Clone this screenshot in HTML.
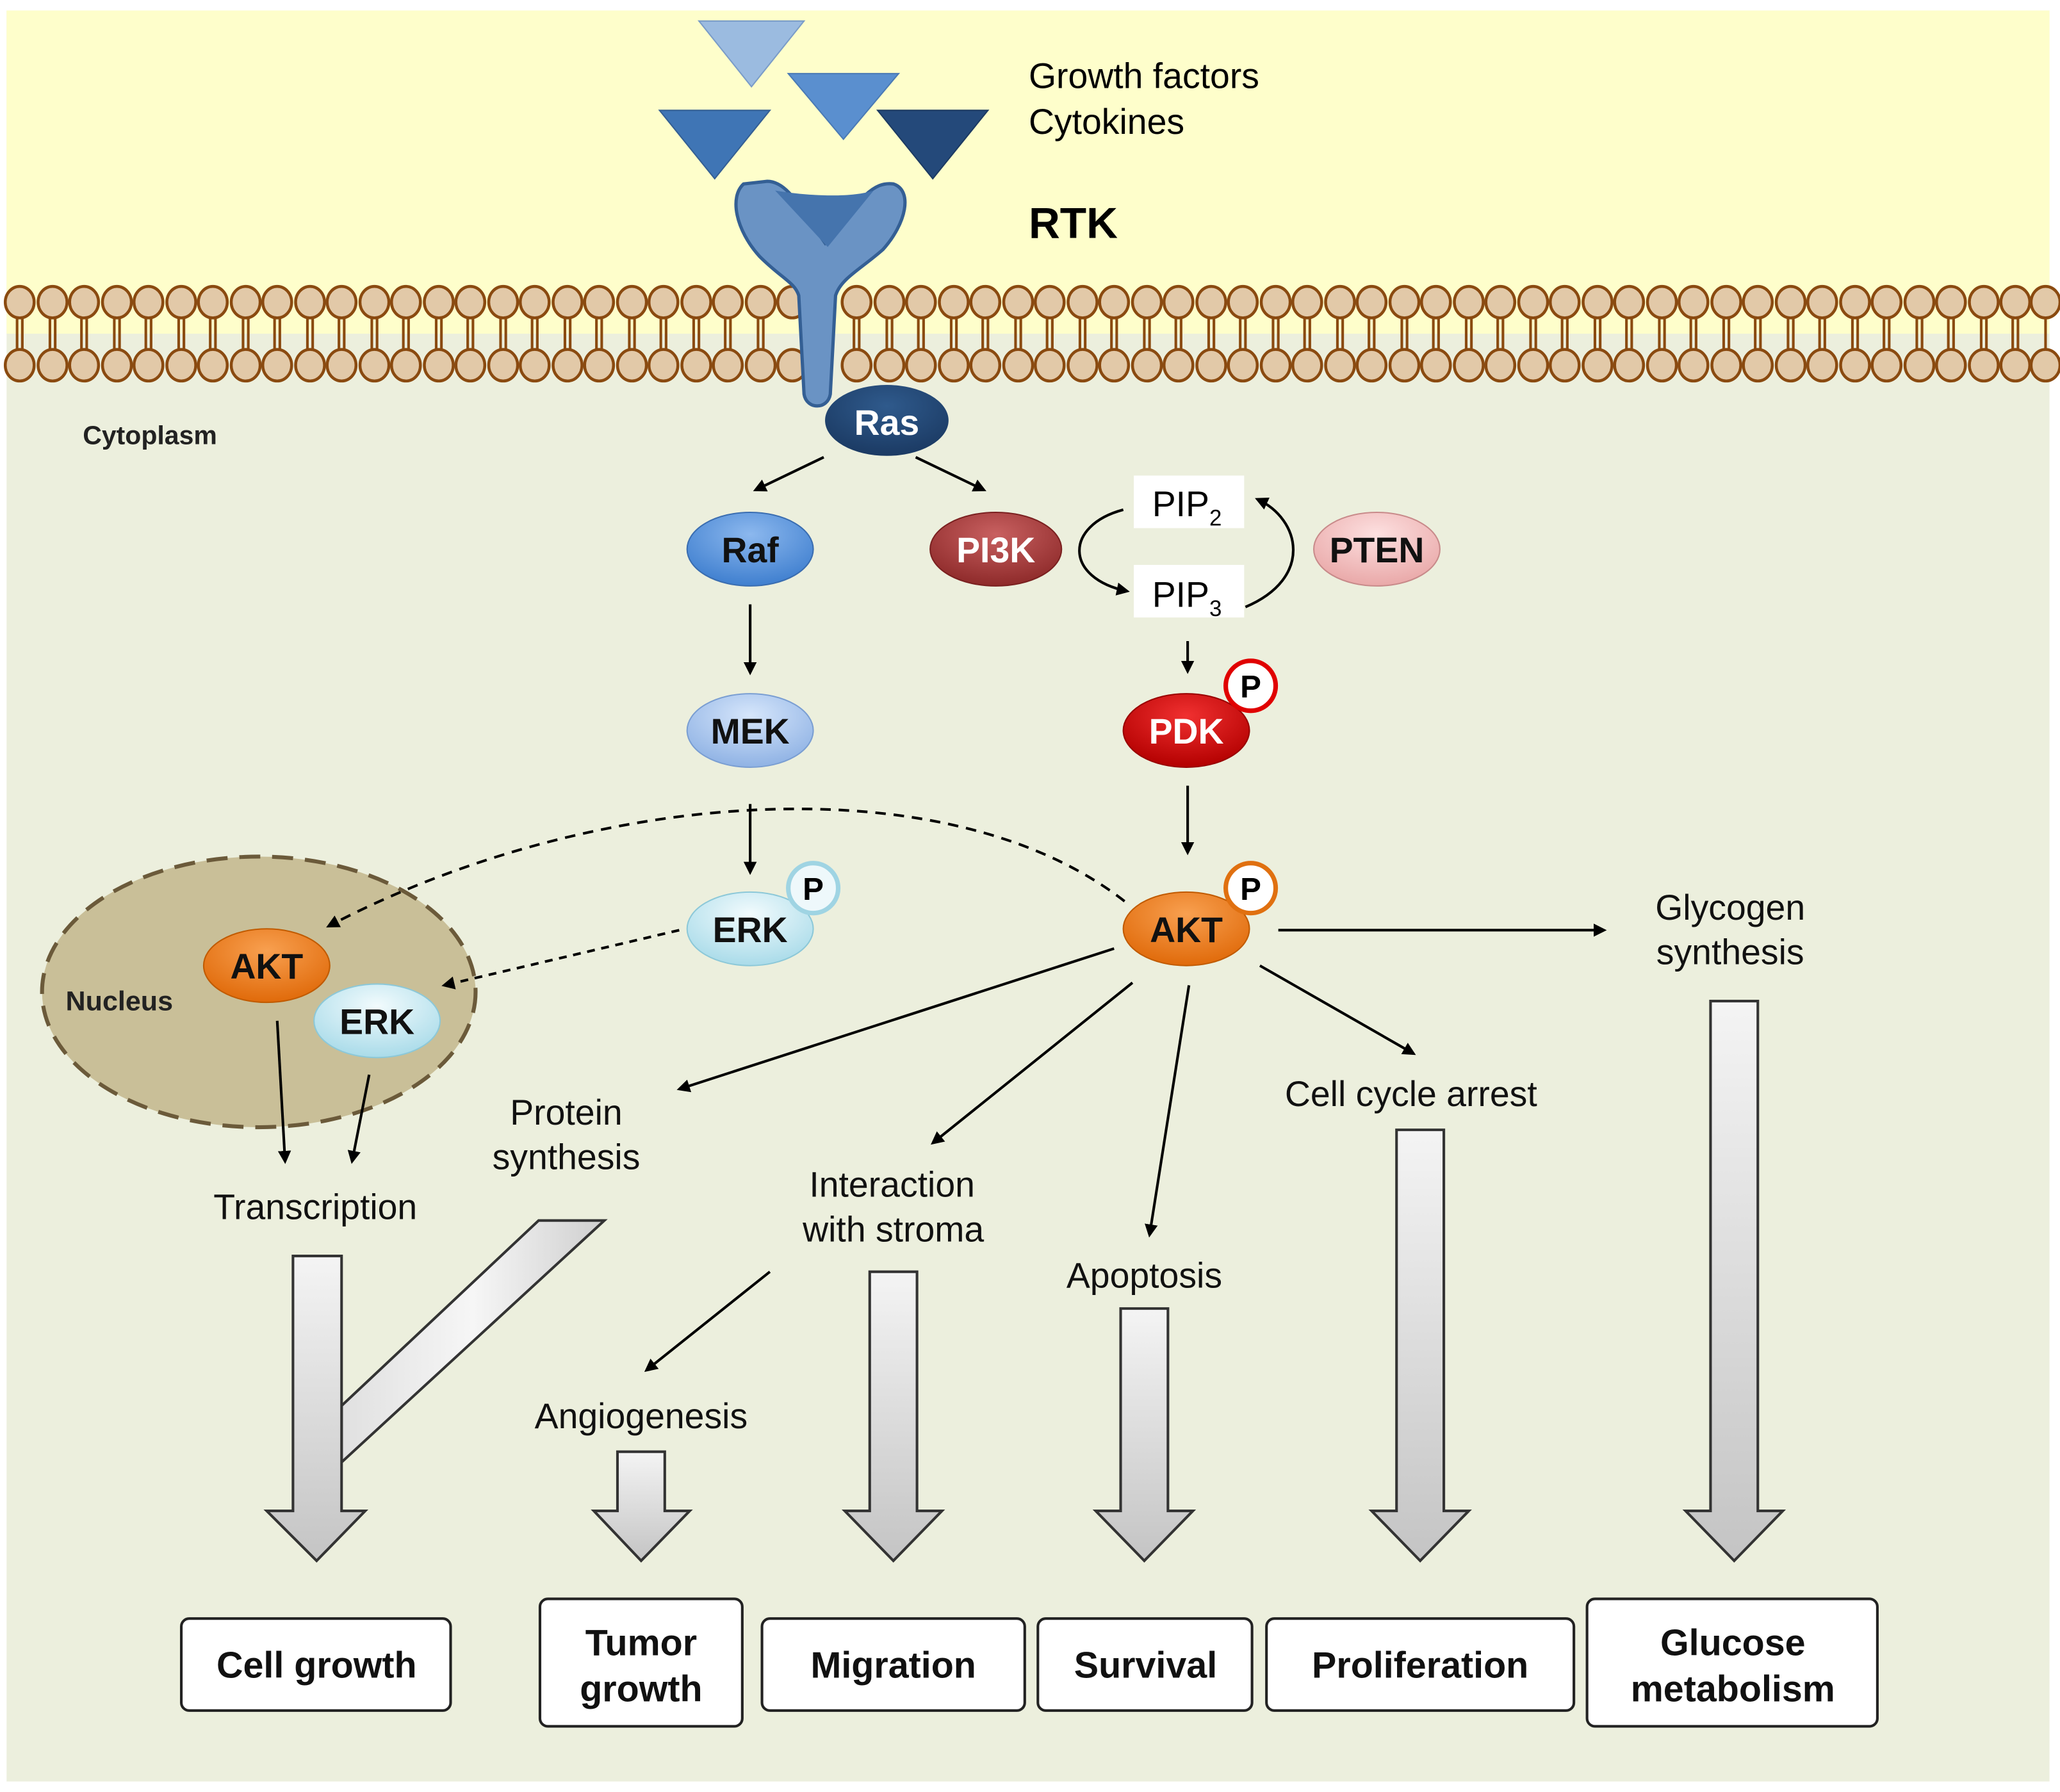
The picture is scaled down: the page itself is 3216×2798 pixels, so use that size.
<!DOCTYPE html>
<html><head><meta charset="utf-8"><style>html,body{margin:0;padding:0;background:#fff}svg{display:block}</style></head>
<body>
<svg xmlns="http://www.w3.org/2000/svg" width="3216" height="2798" viewBox="0 0 1568 1364" preserveAspectRatio="none" font-family="Liberation Sans, Arial, sans-serif">
<defs>
<marker id="ah" markerWidth="10" markerHeight="10" refX="8" refY="5" orient="auto" markerUnits="userSpaceOnUse"><path d="M0,0 L10,5 L0,10 z" fill="#000"/></marker>
<linearGradient id="gray" x1="0" y1="0" x2="0" y2="1"><stop offset="0" stop-color="#f4f4f4"/><stop offset="1" stop-color="#c4c4c4"/></linearGradient>
<linearGradient id="grayh" x1="0" y1="0" x2="1" y2="0"><stop offset="0" stop-color="#e0e0e0"/><stop offset="0.5" stop-color="#f6f6f6"/><stop offset="1" stop-color="#cfcfcf"/></linearGradient>
<radialGradient id="gRas" cx="0.5" cy="0.3" r="0.7"><stop offset="0" stop-color="#2f5a8c"/><stop offset="1" stop-color="#1b3a63"/></radialGradient>
<radialGradient id="gRaf" cx="0.5" cy="0.3" r="0.7"><stop offset="0" stop-color="#8cb8ee"/><stop offset="1" stop-color="#3f7fcf"/></radialGradient>
<radialGradient id="gPI" cx="0.5" cy="0.3" r="0.7"><stop offset="0" stop-color="#c86060"/><stop offset="1" stop-color="#8e2a2a"/></radialGradient>
<radialGradient id="gPT" cx="0.5" cy="0.3" r="0.7"><stop offset="0" stop-color="#fde0e0"/><stop offset="1" stop-color="#e9a8a8"/></radialGradient>
<radialGradient id="gMEK" cx="0.5" cy="0.3" r="0.7"><stop offset="0" stop-color="#d6e6fb"/><stop offset="1" stop-color="#8fb2e4"/></radialGradient>
<radialGradient id="gPDK" cx="0.5" cy="0.3" r="0.7"><stop offset="0" stop-color="#f03030"/><stop offset="1" stop-color="#b30000"/></radialGradient>
<radialGradient id="gERK" cx="0.5" cy="0.3" r="0.7"><stop offset="0" stop-color="#f2fbfd"/><stop offset="1" stop-color="#a9dbe9"/></radialGradient>
<radialGradient id="gAKT" cx="0.5" cy="0.3" r="0.7"><stop offset="0" stop-color="#f8a050"/><stop offset="1" stop-color="#e06a0a"/></radialGradient>
</defs>
<rect width="1568" height="1364" fill="#fff"/>
<rect x="5" y="8" width="1555" height="1348" fill="#ecefdd"/>
<rect x="5" y="8" width="1555" height="246" fill="#fefecb"/>
<!-- membrane -->
<g stroke="#8a4a10" stroke-width="2.2">
<g id="tails">
</g>
</g>
<g stroke="#8a4a10" stroke-width="2" fill="#e2c9a8">
<script type="text/plain"></script>
</g>
<g stroke="#8a4a10" stroke-width="2">
<path d="M13,240V268M17,240V268M38,240V268M42,240V268M62,240V268M66,240V268M87,240V268M91,240V268M111,240V268M115,240V268M136,240V268M140,240V268M160,240V268M164,240V268M185,240V268M189,240V268M209,240V268M213,240V268M234,240V268M238,240V268M258,240V268M262,240V268M283,240V268M287,240V268M307,240V268M311,240V268M332,240V268M336,240V268M356,240V268M360,240V268M381,240V268M385,240V268M405,240V268M409,240V268M430,240V268M434,240V268M454,240V268M458,240V268M479,240V268M483,240V268M503,240V268M507,240V268M528,240V268M532,240V268M552,240V268M556,240V268M577,240V268M581,240V268M650,240V268M654,240V268M675,240V268M679,240V268M699,240V268M703,240V268M724,240V268M728,240V268M748,240V268M752,240V268M773,240V268M777,240V268M797,240V268M801,240V268M822,240V268M826,240V268M846,240V268M850,240V268M871,240V268M875,240V268M895,240V268M899,240V268M920,240V268M924,240V268M944,240V268M948,240V268M969,240V268M973,240V268M993,240V268M997,240V268M1018,240V268M1022,240V268M1042,240V268M1046,240V268M1067,240V268M1071,240V268M1091,240V268M1095,240V268M1116,240V268M1120,240V268M1140,240V268M1144,240V268M1165,240V268M1169,240V268M1189,240V268M1193,240V268M1214,240V268M1218,240V268M1238,240V268M1242,240V268M1263,240V268M1267,240V268M1287,240V268M1291,240V268M1312,240V268M1316,240V268M1336,240V268M1340,240V268M1361,240V268M1365,240V268M1385,240V268M1389,240V268M1410,240V268M1414,240V268M1434,240V268M1438,240V268M1459,240V268M1463,240V268M1483,240V268M1487,240V268M1508,240V268M1512,240V268M1532,240V268M1536,240V268M1557,240V268"/>
</g>
<g stroke="#8a4a10" stroke-width="2.2" fill="#e2c9a8">
<ellipse cx="15" cy="230" rx="11" ry="12"/><ellipse cx="15" cy="278" rx="11" ry="12"/>
<ellipse cx="40" cy="230" rx="11" ry="12"/><ellipse cx="40" cy="278" rx="11" ry="12"/>
<ellipse cx="64" cy="230" rx="11" ry="12"/><ellipse cx="64" cy="278" rx="11" ry="12"/>
<ellipse cx="89" cy="230" rx="11" ry="12"/><ellipse cx="89" cy="278" rx="11" ry="12"/>
<ellipse cx="113" cy="230" rx="11" ry="12"/><ellipse cx="113" cy="278" rx="11" ry="12"/>
<ellipse cx="138" cy="230" rx="11" ry="12"/><ellipse cx="138" cy="278" rx="11" ry="12"/>
<ellipse cx="162" cy="230" rx="11" ry="12"/><ellipse cx="162" cy="278" rx="11" ry="12"/>
<ellipse cx="187" cy="230" rx="11" ry="12"/><ellipse cx="187" cy="278" rx="11" ry="12"/>
<ellipse cx="211" cy="230" rx="11" ry="12"/><ellipse cx="211" cy="278" rx="11" ry="12"/>
<ellipse cx="236" cy="230" rx="11" ry="12"/><ellipse cx="236" cy="278" rx="11" ry="12"/>
<ellipse cx="260" cy="230" rx="11" ry="12"/><ellipse cx="260" cy="278" rx="11" ry="12"/>
<ellipse cx="285" cy="230" rx="11" ry="12"/><ellipse cx="285" cy="278" rx="11" ry="12"/>
<ellipse cx="309" cy="230" rx="11" ry="12"/><ellipse cx="309" cy="278" rx="11" ry="12"/>
<ellipse cx="334" cy="230" rx="11" ry="12"/><ellipse cx="334" cy="278" rx="11" ry="12"/>
<ellipse cx="358" cy="230" rx="11" ry="12"/><ellipse cx="358" cy="278" rx="11" ry="12"/>
<ellipse cx="383" cy="230" rx="11" ry="12"/><ellipse cx="383" cy="278" rx="11" ry="12"/>
<ellipse cx="407" cy="230" rx="11" ry="12"/><ellipse cx="407" cy="278" rx="11" ry="12"/>
<ellipse cx="432" cy="230" rx="11" ry="12"/><ellipse cx="432" cy="278" rx="11" ry="12"/>
<ellipse cx="456" cy="230" rx="11" ry="12"/><ellipse cx="456" cy="278" rx="11" ry="12"/>
<ellipse cx="481" cy="230" rx="11" ry="12"/><ellipse cx="481" cy="278" rx="11" ry="12"/>
<ellipse cx="505" cy="230" rx="11" ry="12"/><ellipse cx="505" cy="278" rx="11" ry="12"/>
<ellipse cx="530" cy="230" rx="11" ry="12"/><ellipse cx="530" cy="278" rx="11" ry="12"/>
<ellipse cx="554" cy="230" rx="11" ry="12"/><ellipse cx="554" cy="278" rx="11" ry="12"/>
<ellipse cx="579" cy="230" rx="11" ry="12"/><ellipse cx="579" cy="278" rx="11" ry="12"/>
<ellipse cx="603" cy="230" rx="11" ry="12"/><ellipse cx="603" cy="278" rx="11" ry="12"/>
<ellipse cx="652" cy="230" rx="11" ry="12"/><ellipse cx="652" cy="278" rx="11" ry="12"/>
<ellipse cx="677" cy="230" rx="11" ry="12"/><ellipse cx="677" cy="278" rx="11" ry="12"/>
<ellipse cx="701" cy="230" rx="11" ry="12"/><ellipse cx="701" cy="278" rx="11" ry="12"/>
<ellipse cx="726" cy="230" rx="11" ry="12"/><ellipse cx="726" cy="278" rx="11" ry="12"/>
<ellipse cx="750" cy="230" rx="11" ry="12"/><ellipse cx="750" cy="278" rx="11" ry="12"/>
<ellipse cx="775" cy="230" rx="11" ry="12"/><ellipse cx="775" cy="278" rx="11" ry="12"/>
<ellipse cx="799" cy="230" rx="11" ry="12"/><ellipse cx="799" cy="278" rx="11" ry="12"/>
<ellipse cx="824" cy="230" rx="11" ry="12"/><ellipse cx="824" cy="278" rx="11" ry="12"/>
<ellipse cx="848" cy="230" rx="11" ry="12"/><ellipse cx="848" cy="278" rx="11" ry="12"/>
<ellipse cx="873" cy="230" rx="11" ry="12"/><ellipse cx="873" cy="278" rx="11" ry="12"/>
<ellipse cx="897" cy="230" rx="11" ry="12"/><ellipse cx="897" cy="278" rx="11" ry="12"/>
<ellipse cx="922" cy="230" rx="11" ry="12"/><ellipse cx="922" cy="278" rx="11" ry="12"/>
<ellipse cx="946" cy="230" rx="11" ry="12"/><ellipse cx="946" cy="278" rx="11" ry="12"/>
<ellipse cx="971" cy="230" rx="11" ry="12"/><ellipse cx="971" cy="278" rx="11" ry="12"/>
<ellipse cx="995" cy="230" rx="11" ry="12"/><ellipse cx="995" cy="278" rx="11" ry="12"/>
<ellipse cx="1020" cy="230" rx="11" ry="12"/><ellipse cx="1020" cy="278" rx="11" ry="12"/>
<ellipse cx="1044" cy="230" rx="11" ry="12"/><ellipse cx="1044" cy="278" rx="11" ry="12"/>
<ellipse cx="1069" cy="230" rx="11" ry="12"/><ellipse cx="1069" cy="278" rx="11" ry="12"/>
<ellipse cx="1093" cy="230" rx="11" ry="12"/><ellipse cx="1093" cy="278" rx="11" ry="12"/>
<ellipse cx="1118" cy="230" rx="11" ry="12"/><ellipse cx="1118" cy="278" rx="11" ry="12"/>
<ellipse cx="1142" cy="230" rx="11" ry="12"/><ellipse cx="1142" cy="278" rx="11" ry="12"/>
<ellipse cx="1167" cy="230" rx="11" ry="12"/><ellipse cx="1167" cy="278" rx="11" ry="12"/>
<ellipse cx="1191" cy="230" rx="11" ry="12"/><ellipse cx="1191" cy="278" rx="11" ry="12"/>
<ellipse cx="1216" cy="230" rx="11" ry="12"/><ellipse cx="1216" cy="278" rx="11" ry="12"/>
<ellipse cx="1240" cy="230" rx="11" ry="12"/><ellipse cx="1240" cy="278" rx="11" ry="12"/>
<ellipse cx="1265" cy="230" rx="11" ry="12"/><ellipse cx="1265" cy="278" rx="11" ry="12"/>
<ellipse cx="1289" cy="230" rx="11" ry="12"/><ellipse cx="1289" cy="278" rx="11" ry="12"/>
<ellipse cx="1314" cy="230" rx="11" ry="12"/><ellipse cx="1314" cy="278" rx="11" ry="12"/>
<ellipse cx="1338" cy="230" rx="11" ry="12"/><ellipse cx="1338" cy="278" rx="11" ry="12"/>
<ellipse cx="1363" cy="230" rx="11" ry="12"/><ellipse cx="1363" cy="278" rx="11" ry="12"/>
<ellipse cx="1387" cy="230" rx="11" ry="12"/><ellipse cx="1387" cy="278" rx="11" ry="12"/>
<ellipse cx="1412" cy="230" rx="11" ry="12"/><ellipse cx="1412" cy="278" rx="11" ry="12"/>
<ellipse cx="1436" cy="230" rx="11" ry="12"/><ellipse cx="1436" cy="278" rx="11" ry="12"/>
<ellipse cx="1461" cy="230" rx="11" ry="12"/><ellipse cx="1461" cy="278" rx="11" ry="12"/>
<ellipse cx="1485" cy="230" rx="11" ry="12"/><ellipse cx="1485" cy="278" rx="11" ry="12"/>
<ellipse cx="1510" cy="230" rx="11" ry="12"/><ellipse cx="1510" cy="278" rx="11" ry="12"/>
<ellipse cx="1534" cy="230" rx="11" ry="12"/><ellipse cx="1534" cy="278" rx="11" ry="12"/>
<ellipse cx="1557" cy="230" rx="11" ry="12"/><ellipse cx="1557" cy="278" rx="11" ry="12"/>
</g>
<!-- growth factor triangles -->
<polygon points="532,16 612,16 572,66" fill="#9bbbe0" stroke="#7a9cc8" stroke-width="1"/>
<polygon points="600,56 684,56 642,106" fill="#5a8fcf" stroke="#4a7ab5" stroke-width="1"/>
<polygon points="502,84 586,84 544,136" fill="#3f75b5" stroke="#345f94" stroke-width="1"/>
<polygon points="668,84 752,84 710,136" fill="#24497a" stroke="#1c3a62" stroke-width="1"/>
<!-- RTK -->
<path d="M566,140 C555,150 560,175 578,195 C595,212 605,215 608,225 L612,300 C614,312 630,312 632,300 L636,225 C640,212 655,205 672,190 C690,170 695,145 680,140 C665,138 655,150 628,185 C610,160 600,138 584,138 Z" fill="#6a93c4" stroke="#345f94" stroke-width="2.5"/>
<path d="M590,145 C620,150 650,150 665,145 L630,188 Z" fill="#4574ad"/>
<!-- Ras -->
<ellipse cx="675" cy="320" rx="47" ry="27" fill="url(#gRas)"/>
<text x="675" y="331" text-anchor="middle" font-size="27" font-weight="bold" fill="#fff">Ras</text>
<text x="783" y="67" font-size="27">Growth factors</text>
<text x="783" y="102" font-size="27">Cytokines</text>
<text x="783" y="181" font-size="33" font-weight="bold">RTK</text>
<text x="63" y="338" font-size="20" font-weight="bold" fill="#222">Cytoplasm</text>
<!-- nucleus -->
<ellipse cx="197" cy="755" rx="165" ry="103" fill="#c9bf98" stroke="#6b5a3a" stroke-width="3" stroke-dasharray="16,9"/>
<text x="50" y="769" font-size="21" font-weight="bold" fill="#222">Nucleus</text>
<!-- nodes -->
<g font-weight="bold" font-size="27" text-anchor="middle">
<ellipse cx="571" cy="418" rx="48" ry="28" fill="url(#gRaf)" stroke="#3a6db0" stroke-width="1"/><text x="571" y="428" fill="#111">Raf</text>
<ellipse cx="758" cy="418" rx="50" ry="28" fill="url(#gPI)" stroke="#7a2020" stroke-width="1"/><text x="758" y="428" fill="#fff">PI3K</text>
<ellipse cx="1048" cy="418" rx="48" ry="28" fill="url(#gPT)" stroke="#c88a8a" stroke-width="1"/><text x="1048" y="428" fill="#111">PTEN</text>
<ellipse cx="571" cy="556" rx="48" ry="28" fill="url(#gMEK)" stroke="#7a9ed2" stroke-width="1"/><text x="571" y="566" fill="#111">MEK</text>
<ellipse cx="903" cy="556" rx="48" ry="28" fill="url(#gPDK)" stroke="#900" stroke-width="1"/><text x="903" y="566" fill="#fff">PDK</text>
<ellipse cx="571" cy="707" rx="48" ry="28" fill="url(#gERK)" stroke="#8cc8d8" stroke-width="1"/><text x="571" y="717" fill="#111">ERK</text>
<ellipse cx="903" cy="707" rx="48" ry="28" fill="url(#gAKT)" stroke="#c05a00" stroke-width="1"/><text x="903" y="717" fill="#111">AKT</text>
<ellipse cx="203" cy="735" rx="48" ry="28" fill="url(#gAKT)" stroke="#c05a00" stroke-width="1"/><text x="203" y="745" fill="#111">AKT</text>
<ellipse cx="287" cy="777" rx="48" ry="28" fill="url(#gERK)" stroke="#8cc8d8" stroke-width="1"/><text x="287" y="787" fill="#111">ERK</text>
</g>
<!-- P circles -->
<g font-weight="bold" font-size="24" text-anchor="middle">
<circle cx="952" cy="522" r="19" fill="#fff" stroke="#e00000" stroke-width="3.5"/><text x="952" y="531">P</text>
<circle cx="619" cy="676" r="19" fill="#eef8fb" stroke="#9fd4e3" stroke-width="3.5"/><text x="619" y="685">P</text>
<circle cx="952" cy="676" r="19" fill="#fff" stroke="#e07010" stroke-width="3.5"/><text x="952" y="685">P</text>
</g>
<!-- PIP boxes -->
<rect x="863" y="362" width="84" height="40" fill="#fff"/>
<rect x="863" y="430" width="84" height="40" fill="#fff"/>
<text x="877" y="393" font-size="27">PIP<tspan font-size="17" dy="7">2</tspan></text>
<text x="877" y="462" font-size="27">PIP<tspan font-size="17" dy="7">3</tspan></text>
<!-- arrows -->
<g stroke="#000" stroke-width="2" fill="none" marker-end="url(#ah)">
<line x1="627" y1="348" x2="575" y2="373"/>
<line x1="697" y1="348" x2="749" y2="373"/>
<line x1="571" y1="460" x2="571" y2="512"/>
<line x1="571" y1="612" x2="571" y2="664"/>
<line x1="904" y1="488" x2="904" y2="511"/>
<line x1="904" y1="598" x2="904" y2="649"/>
<path d="M855,388 C810,400 810,440 858,450"/>
<path d="M948,462 C1000,440 990,395 957,380"/>
<line x1="973" y1="708" x2="1221" y2="708"/>
<line x1="848" y1="722" x2="517" y2="829"/>
<line x1="862" y1="748" x2="710" y2="870"/>
<line x1="905" y1="750" x2="875" y2="940"/>
<line x1="959" y1="735" x2="1076" y2="802"/>
<line x1="586" y1="968" x2="492" y2="1043"/>
<line x1="211" y1="777" x2="217" y2="884"/>
<line x1="281" y1="818" x2="268" y2="884"/>
<path d="M856,686 C720,580 450,600 250,705" stroke-dasharray="8,6"/>
<line x1="517" y1="708" x2="338" y2="750" stroke-dasharray="6,5"/>
</g>
<!-- outcome labels -->
<g font-size="27" text-anchor="middle" fill="#111">
<text x="1317" y="700">Glycogen</text><text x="1317" y="734">synthesis</text>
<text x="431" y="856">Protein</text><text x="431" y="890">synthesis</text>
<text x="1074" y="842">Cell cycle arrest</text>
<text x="679" y="911">Interaction</text><text x="680" y="945">with stroma</text>
<text x="240" y="928">Transcription</text>
<text x="871" y="980">Apoptosis</text>
<text x="488" y="1087">Angiogenesis</text>
</g>
<!-- block arrows -->
<g stroke="#333" stroke-width="2">
<polygon points="410,929 460,929 260,1113 260,1070" fill="url(#grayh)"/>
<path d="M223,956 H260 V1150 H278 L241,1188 L203,1150 H223 Z" fill="url(#gray)"/>
<path d="M470,1105 H506 V1150 H525 L488,1188 L452,1150 H470 Z" fill="url(#gray)"/>
<path d="M662,968 H698 V1150 H717 L680,1188 L643,1150 H662 Z" fill="url(#gray)"/>
<path d="M853,996 H889 V1150 H908 L871,1188 L834,1150 H853 Z" fill="url(#gray)"/>
<path d="M1063,860 H1099 V1150 H1118 L1081,1188 L1044,1150 H1063 Z" fill="url(#gray)"/>
<path d="M1302,762 H1338 V1150 H1357 L1320,1188 L1283,1150 H1302 Z" fill="url(#gray)"/>
</g>
<!-- outcome boxes -->
<g fill="#fff" stroke="#222" stroke-width="2">
<rect x="138" y="1232" width="205" height="70" rx="6"/>
<rect x="411" y="1217" width="154" height="97" rx="6"/>
<rect x="580" y="1232" width="200" height="70" rx="6"/>
<rect x="790" y="1232" width="163" height="70" rx="6"/>
<rect x="964" y="1232" width="234" height="70" rx="6"/>
<rect x="1208" y="1217" width="221" height="97" rx="6"/>
</g>
<g font-size="28" font-weight="bold" text-anchor="middle" fill="#111">
<text x="241" y="1277">Cell growth</text>
<text x="488" y="1260">Tumor</text><text x="488" y="1295">growth</text>
<text x="680" y="1277">Migration</text>
<text x="872" y="1277">Survival</text>
<text x="1081" y="1277">Proliferation</text>
<text x="1319" y="1260">Glucose</text><text x="1319" y="1295">metabolism</text>
</g>
</svg>
</body></html>
